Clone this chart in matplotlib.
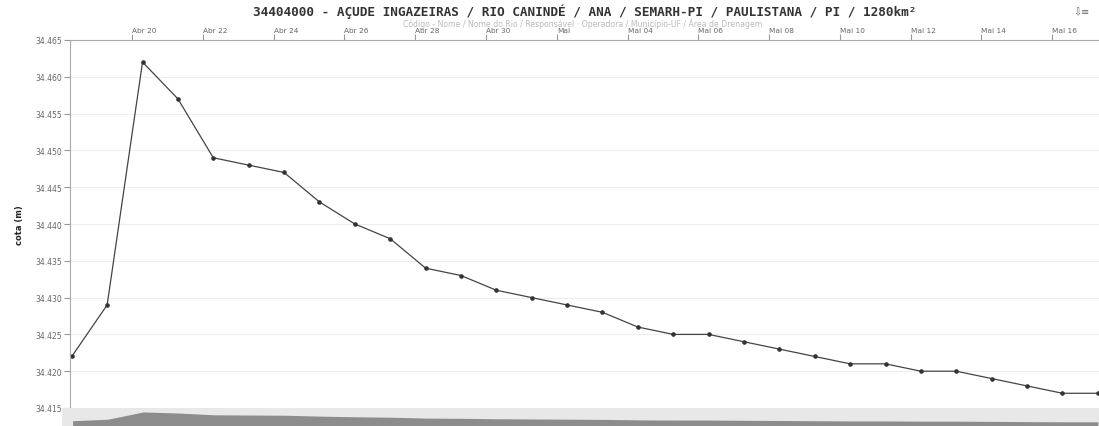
import matplotlib
matplotlib.use("Agg")
import matplotlib.pyplot as plt
import pandas as pd

# leituras diarias (07:00)
datas = [
    "2023-04-18 07:00", "2023-04-19 07:00", "2023-04-20 07:00", "2023-04-21 07:00",
    "2023-04-22 07:00", "2023-04-23 07:00", "2023-04-24 07:00", "2023-04-25 07:00",
    "2023-04-26 07:00", "2023-04-27 07:00", "2023-04-28 07:00", "2023-04-29 07:00",
    "2023-04-30 07:00", "2023-05-01 07:00", "2023-05-02 07:00", "2023-05-03 07:00",
    "2023-05-04 07:00", "2023-05-05 07:00", "2023-05-06 07:00", "2023-05-07 07:00",
    "2023-05-08 07:00", "2023-05-09 07:00", "2023-05-10 07:00", "2023-05-11 07:00",
    "2023-05-12 07:00", "2023-05-13 07:00", "2023-05-14 07:00", "2023-05-15 07:00",
    "2023-05-16 07:00", "2023-05-17 07:00",
]
cotas = [
    34.422, 34.429, 34.462, 34.457, 34.449, 34.448, 34.447, 34.443,
    34.440, 34.438, 34.434, 34.433, 34.431, 34.430, 34.429, 34.428,
    34.426, 34.425, 34.425, 34.424, 34.423, 34.422, 34.421, 34.421,
    34.420, 34.420, 34.419, 34.418, 34.417, 34.417,
]
ticks_x = [
    "2023-04-20", "2023-04-22", "2023-04-24", "2023-04-26", "2023-04-28",
    "2023-04-30", "2023-05-02", "2023-05-04", "2023-05-06", "2023-05-08",
    "2023-05-10", "2023-05-12", "2023-05-14", "2023-05-16",
]
labels_x = [
    "Abr 20", "Abr 22", "Abr 24", "Abr 26", "Abr 28", "Abr 30", "Mai",
    "Mai 04", "Mai 06", "Mai 08", "Mai 10", "Mai 12", "Mai 14", "Mai 16",
]
ticks_y = [34.415, 34.420, 34.425, 34.430, 34.435, 34.440, 34.445,
           34.450, 34.455, 34.460, 34.465]

t = pd.to_datetime(datas)
tx = pd.to_datetime(ticks_x)
x0 = t[0] - pd.Timedelta(hours=1.2)
x1 = t[-1] + pd.Timedelta(hours=0.8)

W, H = 1099, 427
fig = plt.figure(figsize=(W / 100, H / 100), dpi=100)

# grafico principal
ax = fig.add_axes([70 / W, 18 / H, (W - 70) / W, (409 - 41) / H])
ax.plot(t, cotas, color="#444444", lw=0.9, marker="o", ms=2.3,
        mfc="#333333", mec="#333333")
ax.set_xlim(x0, x1)
ax.set_ylim(34.415, 34.465)
ax.set_yticks(ticks_y)
ax.set_yticklabels([f"{v:.3f}" for v in ticks_y], fontsize=5.5, color="#666666")
ax.grid(axis="y", color="#eeeeee", lw=0.8)
ax.set_axisbelow(True)

ax.xaxis.tick_top()
ax.set_xticks(tx)
ax.set_xticklabels(labels_x, fontsize=5.3, color="#666666")
for lb in ax.get_xticklabels():
    lb.set_horizontalalignment("left")
ax.tick_params(axis="x", length=4, color="#999999", pad=1)
ax.tick_params(axis="y", length=4, color="#999999", pad=2)

for s in ["right", "bottom"]:
    ax.spines[s].set_visible(False)
ax.spines["left"].set_color("#aaaaaa")
ax.spines["top"].set_color("#aaaaaa")

ax.set_ylabel("cota (m)", fontsize=6, fontweight="bold", color="#222222", labelpad=8)

# navegador
nav = fig.add_axes([62 / W, 0, (W - 62) / W, 18 / H])
nav.fill_between(t, 34.398, cotas, color="#8c8c8c", lw=0)
nav.set_xlim(x0 - pd.Timedelta(hours=6), x1)
nav.set_ylim(34.398, 34.480)
nav.axis("off")
nav.add_patch(plt.Rectangle((0, 0), 1, 1, transform=nav.transAxes,
                            color="#e8e8e8", zorder=-1))

fig.text(0.532, 0.972,
         "34404000 - AÇUDE INGAZEIRAS / RIO CANINDÉ / ANA / SEMARH-PI / PAULISTANA / PI / 1280km²",
         ha="center", va="center", fontsize=9.2, fontweight="bold", color="#333333",
         family="DejaVu Sans Mono")
fig.text(0.53, 0.945,
         "Código - Nome / Nome do Rio / Responsável · Operadora / Município-UF / Área de Drenagem",
         ha="center", va="center", fontsize=5.6, color="#bbbbbb")
fig.text(0.984, 0.97, "⇩≡", ha="center", va="center", fontsize=7, color="#666666")

fig.savefig("out.png", dpi=100)
